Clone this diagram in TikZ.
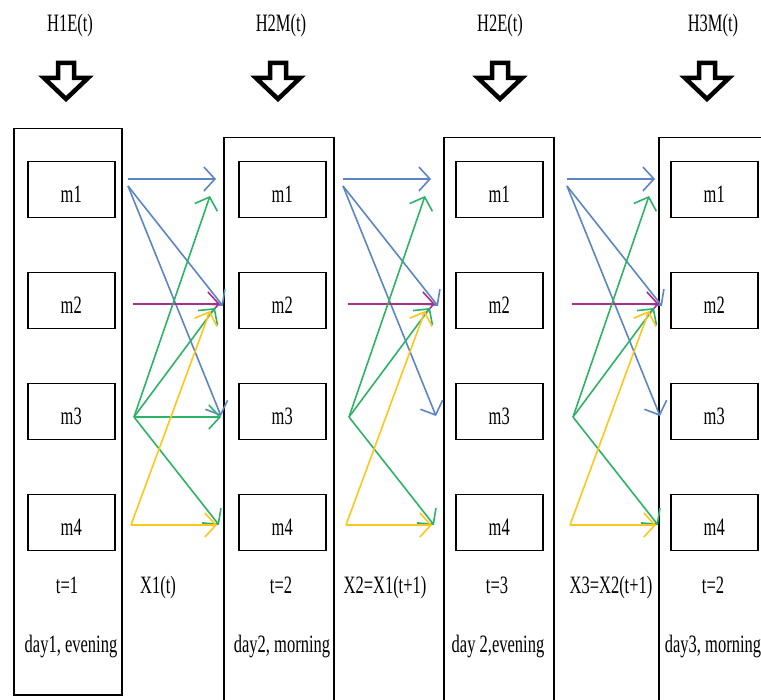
\documentclass[tikz,border=0pt]{standalone}
\usepackage{fontspec}
\setmainfont{Liberation Serif}[FakeStretch=0.66]
\usetikzlibrary{arrows.meta}

\definecolor{flowblue}{HTML}{5B86C5}
\definecolor{flowmag}{HTML}{A8308C}
\definecolor{flowgreen}{HTML}{2CB366}
\definecolor{flowyellow}{HTML}{FFC61A}

\tikzset{
  column/.style={draw, line width=1.5pt, anchor=north west, inner sep=0pt},
  state/.style={draw, line width=1.5pt, anchor=north west, inner sep=0pt,
    minimum width=87pt, minimum height=56pt,
    text height=26pt, text depth=0pt, font=\fontsize{25}{28}\selectfont},
  lbl/.style={anchor=base, inner sep=0pt, font=\fontsize{25}{28}\selectfont},
  flow/.style={line width=1.6pt,
    -{Straight Barb[length=11pt,width=24pt]}},
  blockarrow/.pic={
    \draw[line width=4.5pt, fill=white, line join=miter]
      (-8,63) -- (8,63) -- (8,78) -- (22,78) -- (0,99) -- (-22,78) -- (-8,78) -- cycle;
  }
}

\begin{document}
\begin{tikzpicture}[x=1pt, y=-1pt]
\useasboundingbox (0,0) rectangle (761,700);
\clip (0,0) rectangle (761,700);

% time-slot columns
\node[column, minimum width=108pt, minimum height=566pt] (c1) at (13,128) {};
\node[column, minimum width=110pt, minimum height=590pt] (c2) at (223,137) {};
\node[column, minimum width=110pt, minimum height=590pt] (c3) at (443,137) {};
\node[column, minimum width=120pt, minimum height=590pt] (c4) at (658,137) {};

% states m1..m4 in every column
\foreach \c/\x in {1/27, 2/238, 3/455, 4/670}{
  \foreach \r/\y in {1/161, 2/272, 3/383, 4/494}{
    \node[state] (m\c\r) at (\x,\y) {m\r};
  }
}

% inputs on top
\node[lbl] (h1) at (70,32) {H1E(t)};
\node[lbl] (h2) at (281,32) {H2M(t)};
\node[lbl] (h3) at (500,32) {H2E(t)};
\node[lbl] (h4) at (713,32) {H3M(t)};
\pic at (66,0) {blockarrow};
\pic at (278,0) {blockarrow};
\pic at (500,0) {blockarrow};
\pic at (707,0) {blockarrow};

% labels under the columns and gaps
\node[lbl] (t1) at (67,593) {t=1};
\node[lbl] (x1) at (158,593) {X1(t)};
\node[lbl] (t2) at (281,593) {t=2};
\node[lbl] (x2) at (385,593) {X2=X1(t+1)};
\node[lbl] (t3) at (497,593) {t=3};
\node[lbl] (x3) at (611,593) {X3=X2(t+1)};
\node[lbl] (t4) at (713,593) {t=2};
\node[lbl] (d1) at (71,652) {day1, evening};
\node[lbl] (d2) at (282,652) {day2, morning};
\node[lbl] (d3) at (498,652) {day 2,evening};
\node[lbl] (d4) at (713,652) {day3, morning};

% transitions between consecutive columns
\foreach \g/\L/\straight in {1/128/1, 2/343/0, 3/567/0}{
  \coordinate (b\g s) at (\L,179);
  \coordinate (b\g d) at (\L,186);
  \coordinate (b\g e1) at (\L+88,179);
  \coordinate (b\g e2) at (\L+95,306);
  \coordinate (b\g e3) at (\L+93,416);
  \coordinate (p\g s) at (\L+5,304);
  \coordinate (p\g e2) at (\L+92,304);
  \coordinate (g\g s) at (\L+6,417);
  \coordinate (g\g e1) at (\L+82,196);
  \coordinate (g\g e2) at (\L+87,308);
  \coordinate (g\g e3) at (\L+93,417);
  \coordinate (g\g e4) at (\L+91,525);
  \coordinate (y\g s) at (\L+3,525);
  \coordinate (y\g e2) at (\L+82,311);
  \coordinate (y\g e4) at (\L+89,525);
  \draw[flow, flowblue] (b\g s) -- (b\g e1);
  \draw[flow, flowblue] (b\g d) -- (b\g e2);
  \draw[flow, flowblue] (b\g d) -- (b\g e3);
  \draw[flow, flowmag] (p\g s) -- (p\g e2);
  \draw[flow, flowgreen] (g\g s) -- (g\g e1);
  \draw[flow, flowgreen] (g\g s) -- (g\g e2);
  \ifnum\straight=1
    \draw[flow, flowgreen] (g\g s) -- (g\g e3);
  \fi
  \draw[flow, flowgreen] (g\g s) -- (g\g e4);
  \draw[flow, flowyellow] (y\g s) -- (y\g e2);
  \draw[flow, flowyellow] (y\g s) -- (y\g e4);
}
\end{tikzpicture}
\end{document}
